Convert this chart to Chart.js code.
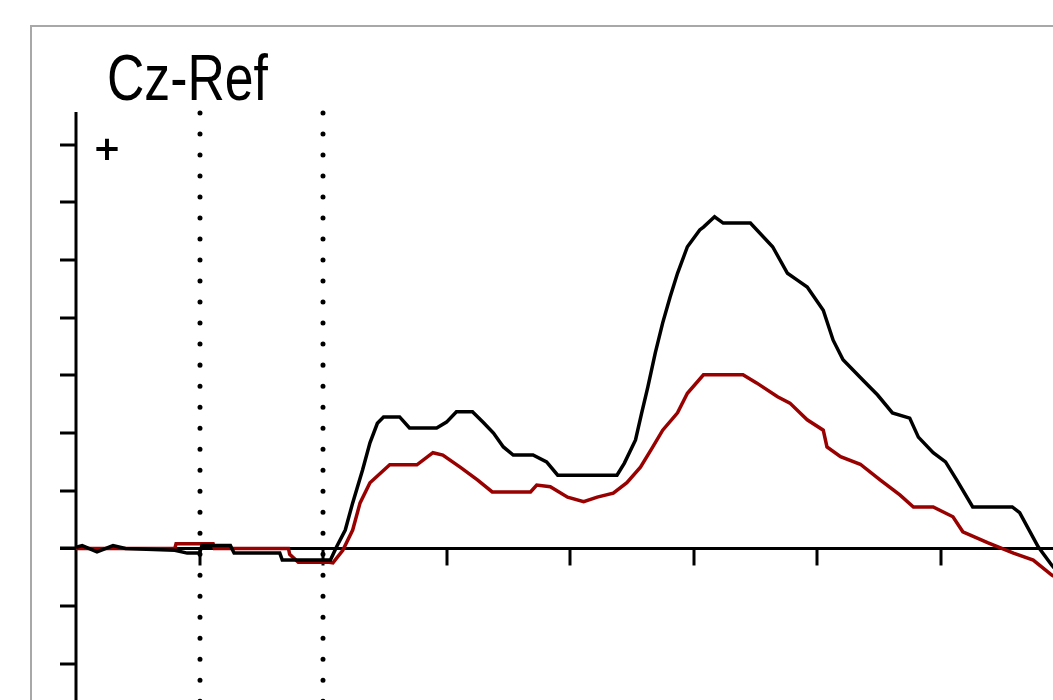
<!DOCTYPE html>
<html>
<head>
<meta charset="utf-8">
<script src="https://cdn.jsdelivr.net/npm/chart.js@4.4.1/dist/chart.umd.min.js"></script>
<style>
  html, body { margin: 0; padding: 0; background: #fff; }
  #wrap { width: 1053px; height: 700px; }
</style>
</head>
<body>
<div id="wrap"><canvas id="erpChart" width="1053" height="700"></canvas></div>
<script>
// channel label
var channelName = 'Cz-Ref';

// black waveform, time in ms / amplitude in uV
var blackTimes = [-200, -195, -183, -170, -160, -120, -110, -100, -98, -75, -72, -35, -33, 6,
  11, 18, 24, 32, 38, 44, 49, 62, 70, 92, 100, 108, 121, 130, 138, 146, 154, 170, 181, 190,
  238, 244, 253, 258, 263, 269, 275, 281, 287, 295, 305, 308, 317, 324, 346, 364, 376, 384,
  392, 405, 413, 421, 437, 449, 461, 475, 482, 494, 504, 513, 526, 558, 564, 579, 590, 597];
var blackUv = [0.02, 0.05, -0.06, 0.05, 0.0, -0.03, -0.08, -0.08, 0.05, 0.05, -0.08, -0.08, -0.2, -0.2,
  0.03, 0.32, 0.79, 1.36, 1.83, 2.17, 2.28, 2.28, 2.09, 2.09, 2.19, 2.37, 2.37, 2.18, 2.0, 1.76, 1.62, 1.62, 1.5, 1.27,
  1.27, 1.48, 1.88, 2.35, 2.8, 3.39, 3.91, 4.36, 4.77, 5.23, 5.52, 5.57, 5.75, 5.64, 5.64, 5.23, 4.77, 4.65,
  4.53, 4.13, 3.61, 3.27, 2.92, 2.66, 2.35, 2.26, 1.93, 1.66, 1.5, 1.19, 0.72, 0.72, 0.62, 0.03, -0.29, -0.46];

// red waveform
var redTimes = [-200, -120, -119, -89, -88, -28, -27, -20, 5,
  8, 16, 24, 30, 38, 54, 76, 89, 97, 111, 125, 137, 168, 173, 184, 198, 211, 222, 235,
  246, 257, 267, 275, 287, 295, 308, 340, 351, 368, 378, 392, 405, 408, 419, 435, 451,
  467, 478, 494, 510, 518, 538, 559, 575, 590, 597];
var redUv = [0.0, 0.0, 0.08, 0.08, 0.0, 0.0, -0.1, -0.24, -0.24,
  -0.25, -0.03, 0.32, 0.79, 1.14, 1.45, 1.45, 1.66, 1.62, 1.41, 1.19, 0.98, 0.98, 1.1, 1.07, 0.89, 0.81, 0.89, 0.96,
  1.14, 1.41, 1.76, 2.05, 2.35, 2.69, 3.01, 3.01, 2.87, 2.63, 2.52, 2.23, 2.05, 1.76, 1.59, 1.46, 1.19,
  0.93, 0.72, 0.72, 0.55, 0.29, 0.1, -0.08, -0.2, -0.46, -0.55];

// axis ticks
var xTicks = [-100, 0, 100, 200, 300, 400, 500];
var yTicks = [-2, -1, 0, 1, 2, 3, 4, 5, 6, 7];
var markerTimes = [-100, 0];

function toPoints(xs, ys) {
  return xs.map(function (t, i) { return { x: t, y: ys[i] }; });
}

var erpAxes = {
  id: 'erpAxes',
  beforeDraw: function (chart) {
    var ctx = chart.ctx;
    ctx.save();
    // gray frame
    ctx.strokeStyle = '#a8a8a8';
    ctx.lineWidth = 2;
    ctx.beginPath();
    ctx.moveTo(31, 2000);
    ctx.lineTo(31, 26);
    ctx.lineTo(2000, 26);
    ctx.stroke();
    ctx.restore();
  },
  beforeDatasetsDraw: function (chart) {
    var ctx = chart.ctx;
    var xs = chart.scales.x, ys = chart.scales.y;
    var x0 = xs.getPixelForValue(-200);
    var y0 = ys.getPixelForValue(0);
    ctx.save();
    ctx.strokeStyle = '#000';
    ctx.fillStyle = '#000';

    // dotted markers
    ctx.lineWidth = 5;
    ctx.lineCap = 'round';
    ctx.setLineDash([0.01, 21]);
    markerTimes.forEach(function (t) {
      var px = Math.round(xs.getPixelForValue(t));
      ctx.beginPath();
      ctx.moveTo(px, 113);
      ctx.lineTo(px, 720);
      ctx.stroke();
    });
    ctx.setLineDash([]);
    ctx.lineCap = 'butt';

    // y axis
    ctx.lineWidth = 3;
    ctx.beginPath();
    ctx.moveTo(x0, 112);
    ctx.lineTo(x0, 700);
    ctx.stroke();
    yTicks.forEach(function (v) {
      var py = Math.round(ys.getPixelForValue(v));
      ctx.beginPath();
      ctx.moveTo(x0 - 16, py);
      ctx.lineTo(x0, py);
      ctx.stroke();
    });

    // x axis at zero
    ctx.beginPath();
    ctx.moveTo(x0 - 16, y0);
    ctx.lineTo(1053, y0);
    ctx.stroke();
    xTicks.forEach(function (t) {
      var px = Math.round(xs.getPixelForValue(t));
      ctx.beginPath();
      ctx.moveTo(px, y0);
      ctx.lineTo(px, y0 + 17);
      ctx.stroke();
    });

    // polarity sign
    ctx.font = 'bold 34px "DejaVu Sans"';
    ctx.textAlign = 'center';
    ctx.textBaseline = 'middle';
    ctx.fillText('+', 107, 151);

    // channel label, narrow like the original bitmap font
    ctx.font = '64px "Liberation Sans"';
    ctx.textAlign = 'left';
    ctx.textBaseline = 'alphabetic';
    var w = ctx.measureText(channelName).width;
    ctx.translate(107, 100);
    ctx.scale(161 / w, 1);
    ctx.fillText(channelName, 0, 0);
    ctx.restore();
  }
};

new Chart(document.getElementById('erpChart').getContext('2d'), {
  type: 'line',
  data: {
    datasets: [
      {
        label: 'black',
        data: toPoints(blackTimes, blackUv),
        borderColor: '#000000',
        borderWidth: 3.5,
        pointRadius: 0,
        tension: 0,
        fill: false
      },
      {
        label: 'red',
        data: toPoints(redTimes, redUv),
        borderColor: '#990000',
        borderWidth: 3.5,
        pointRadius: 0,
        tension: 0,
        fill: false
      }
    ]
  },
  options: {
    responsive: false,
    animation: false,
    layout: { padding: { left: 76, top: 112, right: 0, bottom: 0 } },
    plugins: {
      legend: { display: false },
      tooltip: { enabled: false },
      title: { display: false }
    },
    scales: {
      x: { type: 'linear', min: -200, max: 591, display: false },
      y: { type: 'linear', min: -2.626, max: 7.565, display: false }
    }
  },
  plugins: [erpAxes]
});
</script>
</body>
</html>
